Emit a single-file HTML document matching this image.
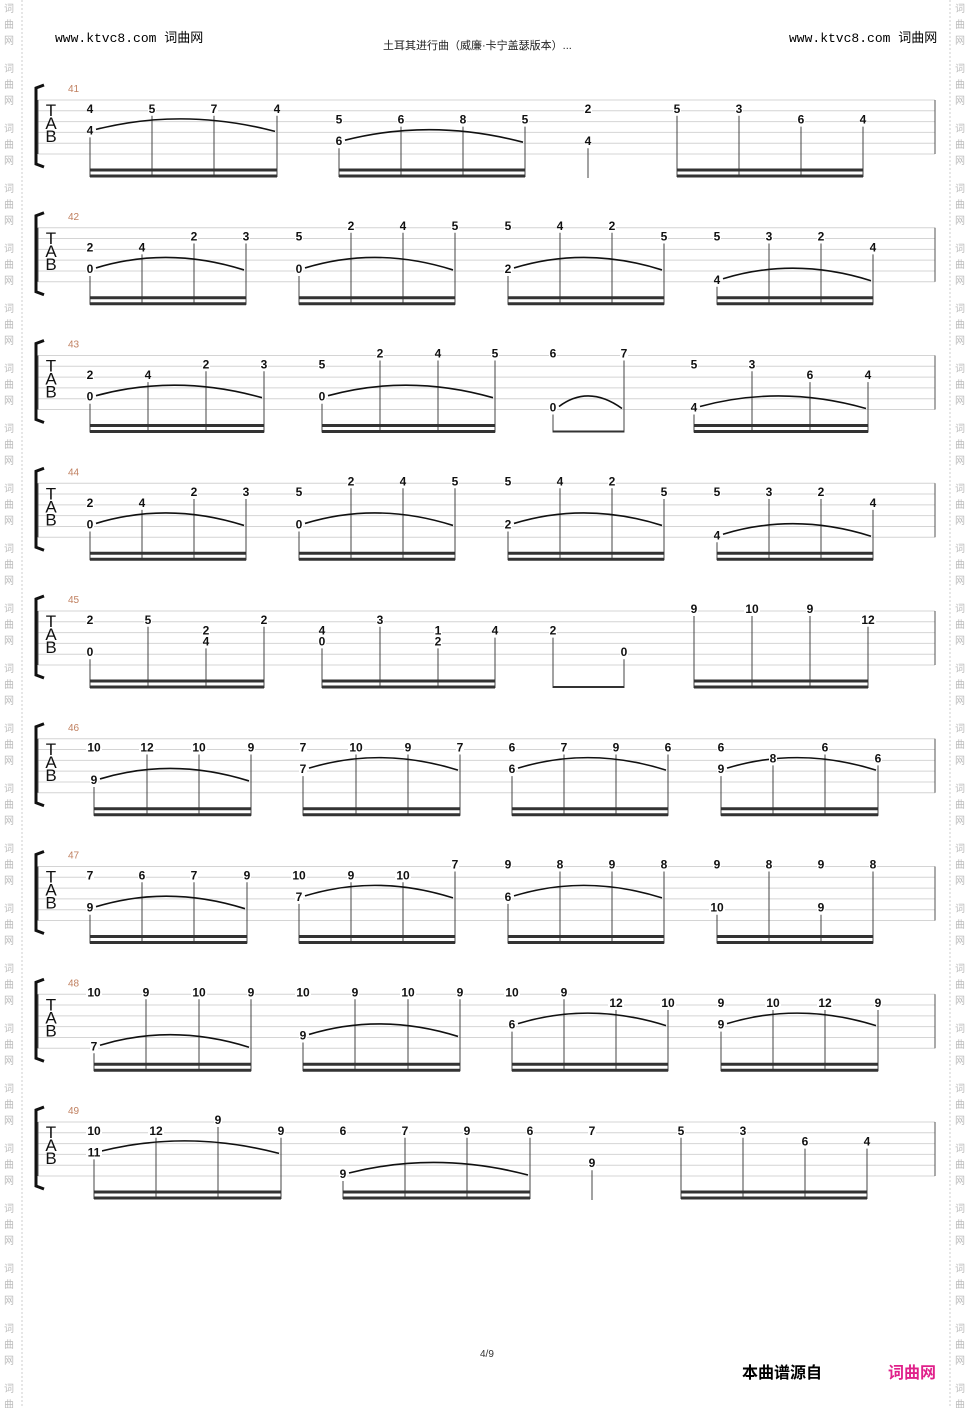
<!DOCTYPE html>
<html><head><meta charset="utf-8">
<style>
body{margin:0;background:#fff;}
#wrap{position:relative;width:975px;height:1408px;overflow:hidden;background:#fff;font-family:"Liberation Sans","Noto Sans CJK SC",sans-serif;}
.abs{position:absolute;white-space:nowrap;}
</style></head>
<body>
<div id="wrap">
<div class="abs" style="left:55px;top:27px;font:13px 'Liberation Mono','Noto Sans CJK SC',monospace;">www.ktvc8.com <span style="font-family:'Noto Sans CJK SC',sans-serif">词曲网</span></div>
<div class="abs" style="left:383px;top:37px;font-size:11px;color:#222;">土耳其进行曲（威廉·卡宁盖瑟版本）...</div>
<div class="abs" style="left:789px;top:27px;font:13px 'Liberation Mono','Noto Sans CJK SC',monospace;">www.ktvc8.com <span style="font-family:'Noto Sans CJK SC',sans-serif">词曲网</span></div>
<div class="abs" style="left:480px;top:1349px;font-size:10px;color:#333;">4/9</div>
<div class="abs" style="left:742px;top:1359px;font-size:16px;font-weight:bold;">本曲谱源自</div>
<div class="abs" style="left:888px;top:1359px;font-size:16px;font-weight:bold;color:#e0208a;">词曲网</div>
<svg id="sv" width="975" height="1408" style="position:absolute;left:0;top:0"></svg>
</div>
<script>
const measureNums=[41,42,43,44,45,46,47,48,49];
const notes41=[[90,2,"4"],[90,4,"4"],[152,2,"5"],[214,2,"7"],[277,2,"4"],[339,3,"5"],[339,5,"6"],[401,3,"6"],[463,3,"8"],[525,3,"5"],[588,2,"2"],[588,5,"4"],[677,2,"5"],[739,2,"3"],[801,3,"6"],[863,3,"4"]];
const groups41=[[90,277,1,2],[339,525,1,2],[588,588,0,0],[677,863,0,2]];
const notes42=[[90,3,"2"],[90,5,"0"],[142,3,"4"],[194,2,"2"],[246,2,"3"],[299,2,"5"],[299,5,"0"],[351,1,"2"],[403,1,"4"],[455,1,"5"],[508,1,"5"],[508,5,"2"],[560,1,"4"],[612,1,"2"],[664,2,"5"],[717,2,"5"],[717,6,"4"],[769,2,"3"],[821,2,"2"],[873,3,"4"]];
const groups42=[[90,246,1,2],[299,455,1,2],[508,664,1,2],[717,873,1,2]];
const notes43=[[90,3,"2"],[90,5,"0"],[148,3,"4"],[206,2,"2"],[264,2,"3"],[322,2,"5"],[322,5,"0"],[380,1,"2"],[438,1,"4"],[495,1,"5"],[553,1,"6"],[553,6,"0"],[624,1,"7"],[694,2,"5"],[694,6,"4"],[752,2,"3"],[810,3,"6"],[868,3,"4"]];
const groups43=[[90,264,1,2],[322,495,1,2],[553,624,1,1],[694,868,1,2]];
const notes45=[[90,2,"2"],[90,5,"0"],[148,2,"5"],[206,3,"2"],[206,4,"4"],[264,2,"2"],[322,3,"4"],[322,4,"0"],[380,2,"3"],[438,3,"1"],[438,4,"2"],[495,3,"4"],[553,3,"2"],[624,5,"0"],[694,1,"9"],[752,1,"10"],[810,1,"9"],[868,2,"12"]];
const groups45=[[90,264,0,2],[322,495,0,2],[553,624,0,1],[694,868,0,2]];
const notes46=[[94,2,"10"],[94,5,"9"],[147,2,"12"],[199,2,"10"],[251,2,"9"],[303,2,"7"],[303,4,"7"],[356,2,"10"],[408,2,"9"],[460,2,"7"],[512,2,"6"],[512,4,"6"],[564,2,"7"],[616,2,"9"],[668,2,"6"],[721,2,"6"],[721,4,"9"],[773,3,"8"],[825,2,"6"],[878,3,"6"]];
const groups46=[[94,251,1,2],[303,460,1,2],[512,668,1,2],[721,878,1,2]];
const notes47=[[90,2,"7"],[90,5,"9"],[142,2,"6"],[194,2,"7"],[247,2,"9"],[299,2,"10"],[299,4,"7"],[351,2,"9"],[403,2,"10"],[455,1,"7"],[508,1,"9"],[508,4,"6"],[560,1,"8"],[612,1,"9"],[664,1,"8"],[717,1,"9"],[717,5,"10"],[769,1,"8"],[821,1,"9"],[821,5,"9"],[873,1,"8"]];
const groups47=[[90,247,1,2],[299,455,1,2],[508,664,1,2],[717,873,0,2]];
const notes48=[[94,1,"10"],[94,6,"7"],[146,1,"9"],[199,1,"10"],[251,1,"9"],[303,1,"10"],[303,5,"9"],[355,1,"9"],[408,1,"10"],[460,1,"9"],[512,1,"10"],[512,4,"6"],[564,1,"9"],[616,2,"12"],[668,2,"10"],[721,2,"9"],[721,4,"9"],[773,2,"10"],[825,2,"12"],[878,2,"9"]];
const groups48=[[94,251,1,2],[303,460,1,2],[512,668,1,2],[721,878,1,2]];
const notes49=[[94,2,"10"],[94,4,"11"],[156,2,"12"],[218,1,"9"],[281,2,"9"],[343,2,"6"],[343,6,"9"],[405,2,"7"],[467,2,"9"],[530,2,"6"],[592,2,"7"],[592,5,"9"],[681,2,"5"],[743,2,"3"],[805,3,"6"],[867,3,"4"]];
const groups49=[[94,281,1,2],[343,530,1,2],[592,592,0,0],[681,867,0,2]];
const systemNotes=[notes41,notes42,notes43,notes42,notes45,notes46,notes47,notes48,notes49];
const systemGroups=[groups41,groups42,groups43,groups42,groups45,groups46,groups47,groups48,groups49];

const NS="http://www.w3.org/2000/svg";
const sv=document.getElementById('sv');
function mk(t,a,p){const e=document.createElementNS(NS,t);for(const k in a)e.setAttribute(k,a[k]);(p||sv).appendChild(e);return e;}
const sysTop=i=>100+127.75*i;
const strY=(t,s)=>t+(s-1)*10.8;

// side watermarks
for(let y=0;y<1408;y+=60){
  ['词','曲','网'].forEach((c,j)=>{
    [4,955].forEach(x=>{
      const t=mk('text',{x:x,y:y+12+j*16,'font-size':10,fill:'#bbb','font-family':'Noto Sans CJK SC,sans-serif'});
      
      
      t.textContent=c;
    });
  });
}
[22,950].forEach(x=>{const l=mk('line',{x1:x,y1:0,x2:x,y2:1408,stroke:'#ccc','stroke-dasharray':'2,2'});

});

measureNums.forEach((m,i)=>{
  const T=sysTop(i);
  const g=mk('g',{});
  
  
  for(let s=1;s<=6;s++) mk('line',{x1:38,y1:strY(T,s),x2:935,y2:strY(T,s),stroke:'#d4d4d4','stroke-width':1},g);
  mk('line',{x1:38,y1:T,x2:38,y2:strY(T,6),stroke:'#555','stroke-width':1},g);
  mk('line',{x1:935,y1:T,x2:935,y2:strY(T,6),stroke:'#555','stroke-width':1},g);
  mk('path',{d:`M44 ${T-15} L36 ${T-12} L36 ${T+64} L44 ${T+67}`,stroke:'#111','stroke-width':3,fill:'none'},g);
  ['T','A','B'].forEach((c,j)=>{const t=mk('text',{x:51,y:T+16+j*13,'font-size':17,'text-anchor':'middle',fill:'#111','font-family':'Liberation Sans,sans-serif'},g);t.textContent=c;});
  const mn=mk('text',{x:68,y:T-8,'font-size':10,fill:'#c08060','font-family':'Liberation Sans,sans-serif'},g);
  
  
  mn.textContent=m;
  const notes=systemNotes[i];
  const lowest=x=>Math.max(...notes.filter(n=>n[0]===x).map(n=>n[1]));
  const xs=[...new Set(notes.map(n=>n[0]))];
  const b1=T+70,b2=T+76;
  systemGroups[i].forEach(gr=>{
    const [x1,x2,slur,beams]=gr;
    xs.filter(x=>x>=x1&&x<=x2).forEach(x=>{
      mk('line',{x1:x,y1:strY(T,lowest(x))+5,x2:x,y2:beams?b2+1:T+78,stroke:'#444','stroke-width':1},g);
    });
    if(beams===2){mk('rect',{x:x1,y:b1-1.5,width:x2-x1,height:3,fill:'#333'},g);mk('rect',{x:x1,y:b2-1.5,width:x2-x1,height:3,fill:'#333'},g);}
    if(beams===1){mk('rect',{x:x1,y:b2-1,width:x2-x1,height:2,fill:'#333'},g);}
    if(slur){const sy=strY(T,lowest(x1))-3;const p=mk('path',{d:`M${x1+6} ${sy} Q${(x1+x2)/2} ${sy-22} ${x2-2} ${sy+2}`,stroke:'#111','stroke-width':1.6,fill:'none'},g);
      
      }
  });
  notes.forEach(n=>{
    const y=strY(T,n[1]);
    mk('rect',{x:n[0]-4*n[2].length,y:y-6,width:8*n[2].length,height:10,fill:'#fff'},g);
    const t=mk('text',{x:n[0],y:y+2,'font-size':12,'font-weight':'bold','text-anchor':'middle',fill:'#111','font-family':'Liberation Sans,sans-serif'},g);
    
    
    t.textContent=n[2];
  });
});
</script>
</body></html>
